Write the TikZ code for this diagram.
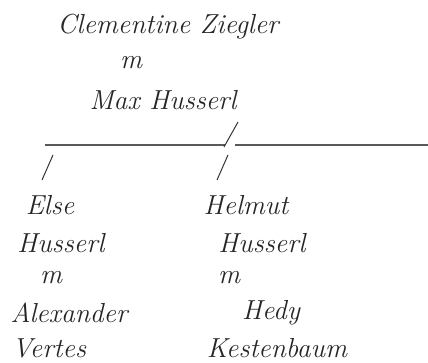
\documentclass[tikz,border=0pt]{standalone}
\begin{document}
\begin{tikzpicture}[x=1pt,y=1pt,
  person/.style={font=\fontsize{27.5}{27.5}\selectfont\itshape, inner sep=0pt, text=black!85},
  rule/.style={draw=black!65, line width=1.1pt},
  tick/.style={draw=black!80, line width=1pt}]
\useasboundingbox (0,0) rectangle (428,362);
\node[person] (cz) at (168,335) {Clementine Ziegler};
\node[person] (m1) at (131,299) {m};
\node[person] (mh) at (163,262) {Max Husserl};
\coordinate (la) at (45,217);
\coordinate (lb) at (225,217);
\coordinate (lc) at (235,217);
\coordinate (ld) at (428,217);
\draw[rule] (la) -- (lb);
\draw[rule] (lc) -- (ld);
\coordinate (t1) at (224,215);
\coordinate (t2) at (238,240);
\draw[tick] (t1) -- (t2);
\coordinate (s1a) at (42,182);
\coordinate (s1b) at (53,207);
\draw[tick] (s1a) -- (s1b);
\coordinate (s2a) at (217,182);
\coordinate (s2b) at (228,207);
\draw[tick] (s2a) -- (s2b);
\node[person] (e1) at (50,157) {Else};
\node[person] (e2) at (61,119) {Husserl};
\node[person] (e3) at (51,84) {m};
\node[person] (e4) at (69,49) {Alexander};
\node[person] (e5) at (49,14) {Vertes};
\node[person] (h1) at (246,157) {Helmut};
\node[person] (h2) at (262,119) {Husserl};
\node[person] (h3) at (229,84) {m};
\node[person] (h4) at (271,49) {Hedy};
\node[person] (h5) at (277,14) {Kestenbaum};
\end{tikzpicture}
\end{document}
